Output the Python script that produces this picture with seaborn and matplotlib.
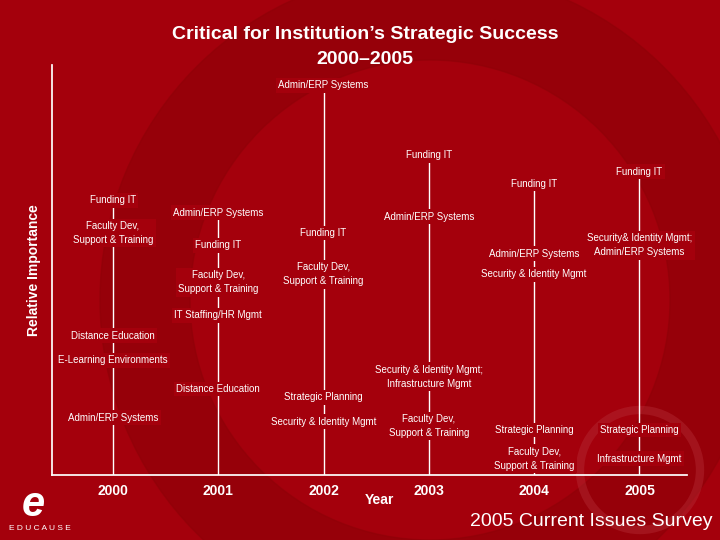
import matplotlib
matplotlib.use("Agg")
import matplotlib.pyplot as plt
import seaborn as sns
import pandas as pd
from matplotlib.patches import Circle, Wedge

years = [2000, 2001, 2002, 2003, 2004, 2005]
labels_2000 = ["Funding IT", "Faculty Dev,\nSupport & Training", "Distance Education", "E-Learning Environments", "Admin/ERP Systems"]
values_2000 = [67, 59, 34, 28, 14]
labels_2001 = ["Admin/ERP Systems", "Funding IT", "Faculty Dev,\nSupport & Training", "IT Staffing/HR Mgmt", "Distance Education"]
values_2001 = [64, 56, 47, 39, 21]
labels_2002 = ["Admin/ERP Systems", "Funding IT", "Faculty Dev,\nSupport & Training", "Strategic Planning", "Security & Identity Mgmt"]
values_2002 = [95, 59, 49, 19, 13]
labels_2003 = ["Funding IT", "Admin/ERP Systems", "Security & Identity Mgmt;\nInfrastructure Mgmt", "Faculty Dev,\nSupport & Training"]
values_2003 = [78, 63, 24, 12]
labels_2004 = ["Funding IT", "Admin/ERP Systems", "Security & Identity Mgmt", "Strategic Planning", "Faculty Dev,\nSupport & Training"]
values_2004 = [71, 54, 49, 11, 4]
labels_2005 = ["Funding IT", "Security& Identity Mgmt;\nAdmin/ERP Systems", "Strategic Planning", "Infrastructure Mgmt"]
values_2005 = [74, 56, 11, 4]

all_labels = [labels_2000, labels_2001, labels_2002, labels_2003, labels_2004, labels_2005]
all_values = [values_2000, values_2001, values_2002, values_2003, values_2004, values_2005]

rows = []
for i, (y, labs, vals) in enumerate(zip(years, all_labels, all_values)):
    for l, v in zip(labs, vals):
        rows.append(dict(year=y, pos=i, label=l, value=v))
df = pd.DataFrame(rows)
lines = pd.concat([df[["year", "pos", "value"]],
                   pd.DataFrame(dict(year=years, pos=range(6), value=[0]*6))])
lines = lines.sort_values(["year", "value"])

BG = "#A4000C"
sns.set_theme(style="white")
plt.rcParams['font.family'] = ['Liberation Sans', 'DejaVu Sans']
fig = plt.figure(figsize=(7.2, 5.4), dpi=100, facecolor=BG)
bgax = fig.add_axes([0, 0, 1, 1], zorder=-1)
bgax.set_xlim(0, 720); bgax.set_ylim(540, 0); bgax.axis("off")
bgax.add_patch(Wedge((430, 300), 330, 0, 360, width=90, color="#8E0008", alpha=0.6))
bgax.add_patch(Circle((640, 470), 60, fill=False, lw=6, ec="#B8303A", alpha=0.4))

ax = fig.add_axes([0.072, 0.12, 0.882, 0.76])
ax.set_facecolor("none")
sns.lineplot(data=lines, x="pos", y="value", units="year", estimator=None,
             sort=False, color="white", lw=1, ax=ax)
for _, r in df.iterrows():
    ax.text(r.pos, r.value, r.label, ha="center", va="center", color="white",
            fontsize=7, linespacing=1.5,
            bbox=dict(boxstyle="square,pad=0.25", fc=BG, ec="none"))
ax.set_xlim(-0.58, 5.45)
ax.set_ylim(0, 100)
ax.set_xticks(range(6))
ax.set_xticklabels([str(y) for y in years], color="white", fontsize=10, fontweight="bold")
ax.set_yticks([])
ax.tick_params(axis="x", length=0, pad=6)
for s in ["top", "right"]:
    ax.spines[s].set_visible(False)
for s in ["left", "bottom"]:
    ax.spines[s].set_color("white")
ax.set_xlabel("")
ax.set_ylabel("Relative Importance", color="white", fontsize=10, fontweight="bold", labelpad=8)

fig.text(0.507, 0.913, "Critical for Institution\u2019s Strategic Success\n2000\u20132005",
         ha="center", va="center", color="white", fontsize=14, fontweight="bold", linespacing=1.6)
fig.text(0.527, 0.075, "Year", ha="center", va="center", color="white", fontsize=10, fontweight="bold")
fig.text(0.99, 0.035, "2005 Current Issues Survey", ha="right", va="center", color="white", fontsize=14)
fig.text(0.03, 0.065, "e", ha="left", va="center", color="white", fontsize=30, fontstyle="italic", fontweight="bold")
fig.text(0.012, 0.022, "E D U C A U S E", ha="left", va="center", color="white", fontsize=6)

fig.savefig("out.png", dpi=100, facecolor=BG)
